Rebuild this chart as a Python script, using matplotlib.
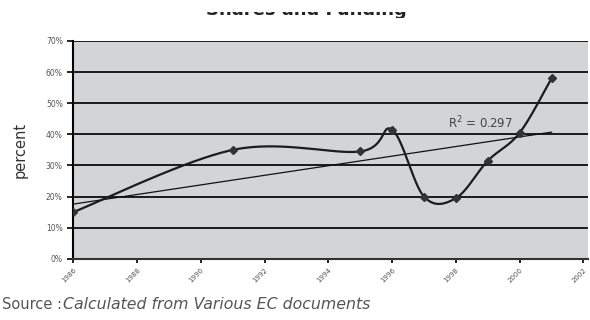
import numpy as np
import matplotlib.pyplot as plt
from matplotlib.ticker import FuncFormatter
from matplotlib.transforms import Bbox, TransformedBbox

# Values
years = [1986, 1991, 1995, 1996, 1997, 1998, 1999, 2000, 2001]
share = [15.0, 35.0, 34.5, 41.5, 20.0, 19.5, 31.5, 40.5, 58.0]
xtick_years = list(range(1986, 2003, 2))
ytick_vals = list(range(0, 80, 10))
r2_label = "R$^2$ = 0.297"


# Excel style smoothed line (Catmull-Rom through bezier control points)
def smooth_curve(xs, ys, sx, sy, n=40):
    px = np.asarray(xs, float) / sx
    py = np.asarray(ys, float) / sy
    pts = np.column_stack([px, py])
    out = []
    for i in range(len(pts) - 1):
        p0 = pts[i - 1] if i > 0 else pts[i]
        p1 = pts[i]
        p2 = pts[i + 1]
        p3 = pts[i + 2] if i + 2 < len(pts) else pts[i + 1]
        c1 = p1 + (p2 - p0) / 6.0
        c2 = p2 - (p3 - p1) / 6.0
        t = np.linspace(0, 1, n)[:, None]
        seg = ((1 - t) ** 3) * p1 + 3 * ((1 - t) ** 2) * t * c1 + 3 * (1 - t) * t ** 2 * c2 + t ** 3 * p2
        out.append(seg)
    out = np.vstack(out)
    return out[:, 0] * sx, out[:, 1] * sy


fig = plt.figure(figsize=(5.9, 3.2), dpi=100)
ax = fig.add_axes([0.124, 0.191, 0.873, 0.681])
ax.set_facecolor("#d3d4d6")

ax.set_xlim(1986, 2002.15)
ax.set_ylim(0, 70)

for v in ytick_vals[1:]:
    ax.axhline(v, color="#1a1a1a", lw=1.4, zorder=1)

# smoothed series (scale: ~32 px per year, ~3.1 px per percent)
cx, cy = smooth_curve(years, share, 1 / 32.0, 1 / 3.1)
ax.plot(cx, cy, color="#1c1c1c", lw=1.6, zorder=3)
ax.plot(years, share, ls="none", marker="D", ms=4.5, color="#333333", zorder=4)

# linear trend line
coef = np.polyfit(years, share, 1)
tx = np.array([years[0], years[-1]])
ax.plot(tx, np.polyval(coef, tx), color="#111111", lw=0.9, zorder=2)
ax.text(1997.75, 41.8, r2_label, fontsize=8.5, color="#444444", zorder=5)

ax.set_xticks(xtick_years)
ax.set_xticklabels([str(y) for y in xtick_years], rotation=45, ha="right",
                   va="top", rotation_mode="anchor", fontsize=5, color="#555555")
ax.set_yticks(ytick_vals)
ax.yaxis.set_major_formatter(FuncFormatter(lambda v, p: f"{int(v)}%"))
ax.tick_params(axis="y", labelsize=5.5, labelcolor="#555555", length=4, width=1.2, direction="out")
ax.tick_params(axis="x", length=3, width=1.2, direction="out", pad=3)

for side in ["top", "right"]:
    ax.spines[side].set_visible(False)
ax.spines["left"].set_linewidth(1.5)
ax.spines["bottom"].set_linewidth(1.5)
ax.spines["bottom"].set_color("#333333")

ax.set_ylabel("percent", fontsize=10.5, color="#333333", labelpad=13)

# title: only its lower edge survives in the original picture
title = fig.text(0.52, 1 - 15 / 320, "Shares and Funding", ha="center", va="baseline",
                 fontsize=13, fontweight="bold", color="#222222")
title.set_clip_box(TransformedBbox(Bbox([[0, 1 - 18 / 320], [1, 1 - 12 / 320]]), fig.transFigure))
title.set_clip_on(True)

fig.text(0.004, 0.033, "Source : ", fontsize=10.5, color="#555555")
fig.text(0.107, 0.033, "Calculated from Various EC documents", fontsize=11.3,
         style="italic", color="#555555")

fig.savefig("out.png", dpi=100)
